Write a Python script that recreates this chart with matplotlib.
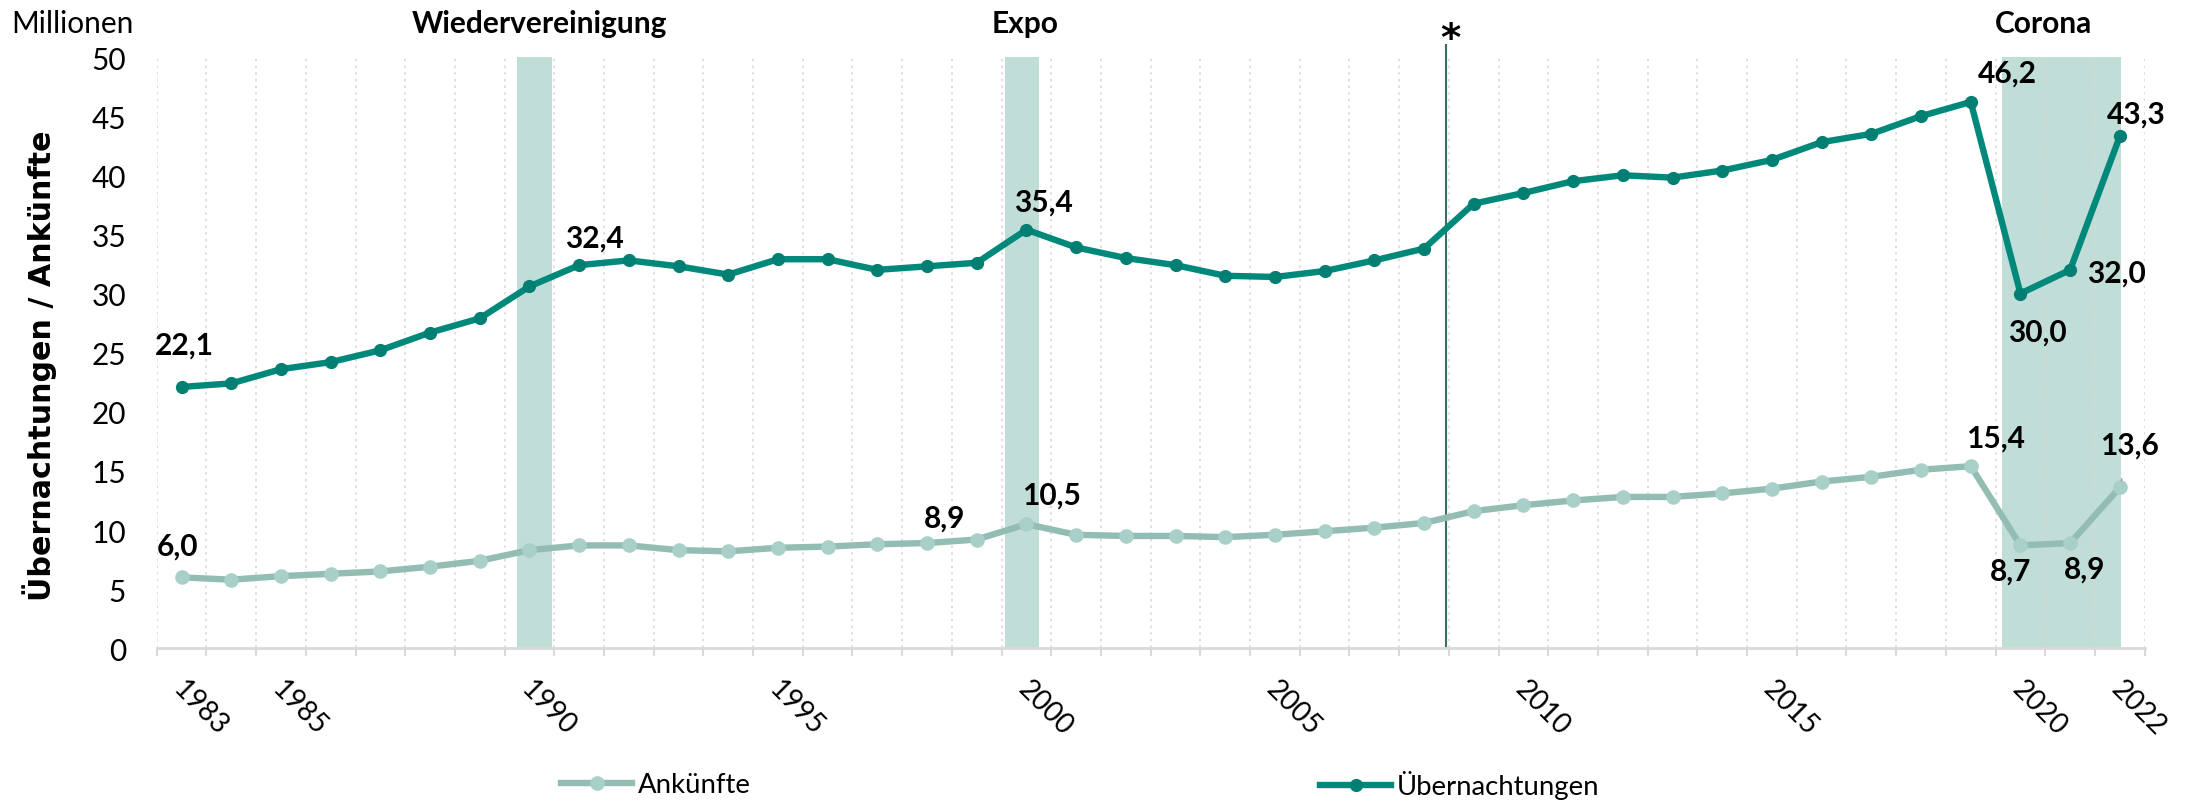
import numpy as np
import matplotlib
matplotlib.use("Agg")
import matplotlib.pyplot as plt
from matplotlib.lines import Line2D

# ---------------- data ----------------
years = list(range(1983, 2023))
uebernachtungen = [22.1, 22.4, 23.6, 24.2, 25.2, 26.7, 27.9, 30.6, 32.4, 32.8,
                   32.3, 31.6, 32.9, 32.9, 32.0, 32.3, 32.6, 35.4, 33.9, 33.0,
                   32.4, 31.5, 31.4, 31.9, 32.8, 33.8, 37.6, 38.5, 39.5, 40.0,
                   39.8, 40.4, 41.3, 42.8, 43.5, 45.0, 46.2, 30.0, 32.0, 43.3]
ankuenfte = [6.0, 5.8, 6.1, 6.3, 6.5, 6.9, 7.4, 8.3, 8.7, 8.7,
             8.3, 8.2, 8.5, 8.6, 8.8, 8.9, 9.2, 10.5, 9.6, 9.5,
             9.5, 9.4, 9.6, 9.9, 10.2, 10.6, 11.6, 12.1, 12.5, 12.8,
             12.8, 13.1, 13.5, 14.1, 14.5, 15.1, 15.4, 8.7, 8.9, 13.6]
labelled_years_ue = [1983, 1991, 2000, 2019, 2020, 2021, 2022]
labelled_years_an = [1983, 1998, 2000, 2019, 2020, 2021, 2022]
tick_years = [1983, 1985, 1990, 1995, 2000, 2005, 2010, 2015, 2020, 2022]
event_names = ["Wiedervereinigung", "Expo", "Corona"]
event_first = [1990, 2000, 2020]
event_last = [1990, 2000, 2022]
break_year = 2008   # methodological break marked with *
y_ticks = [0, 5, 10, 15, 20, 25, 30, 35, 40, 45, 50]

# ---------------- style ----------------
C_UE = "#00897b"
C_UE_M = "#007f72"
C_AN = "#93bdb3"
C_AN_M = "#a9d0c8"
C_BAND = "#c0ddd8"
C_GRID = "#d9d9d9"
FONT = "Lato"
FS = 21.5

W, H = 2190, 803
fig = plt.figure(figsize=(W / 100, H / 100), dpi=100)
fig.patch.set_facecolor("white")
L, R, B, T = 156.7, 2144.7, 649.3, 58.0
ax = fig.add_axes([L / W, 1 - B / H, (R - L) / W, (B - T) / H])

n = len(years)
x = np.arange(n)
idx = {y: i for i, y in enumerate(years)}

ax.set_xlim(-0.5, n - 0.5)
ax.set_ylim(0, 50)

# event bands (per-band offsets mimic the original's placement)
band_pad = [(-0.25, 0.45), (-0.43, 0.25), (-0.37, 0.03)]
for f, l, (pl, pr) in zip(event_first, event_last, band_pad):
    ax.axvspan(idx[f] + pl, idx[l] + pr, color=C_BAND, lw=0, zorder=1)

# break line
ax.axvline(idx[break_year] + 0.45, ymin=0, ymax=1.02, color="#3b6e68", lw=1.5,
           clip_on=False, zorder=2)

# lines
lw = 4.6
ax.plot(x, ankuenfte, color=C_AN, lw=lw, marker="o", ms=9.5,
        mfc=C_AN_M, mec=C_AN_M, zorder=3, solid_capstyle="round")
ax.plot(x, uebernachtungen, color=C_UE, lw=lw, marker="o", ms=8.5,
        mfc=C_UE_M, mec=C_UE_M, zorder=4, solid_capstyle="round")

# axes styling
for s in ["left", "right", "top"]:
    ax.spines[s].set_visible(False)
ax.spines["bottom"].set_color(C_GRID)
ax.spines["bottom"].set_linewidth(2)
ax.spines["bottom"].set_zorder(2)

ax.set_yticks(y_ticks)
ax.set_yticklabels([str(v) for v in y_ticks], fontsize=FS, fontfamily=FONT)
ax.tick_params(axis="y", length=0, pad=22)

ax.set_xticks(np.arange(-0.5, n, 1.0), minor=True)
ax.tick_params(axis="x", which="minor", length=6, width=1.5, color=C_GRID)
ax.grid(which="minor", axis="x", color=C_GRID, lw=1.2, ls=(0, (1.5, 2.5)), zorder=0)
ax.set_xticks([idx[y] + 0.1 for y in tick_years])
ax.set_xticklabels([str(y) for y in tick_years], rotation=-45, ha="left",
                   va="top", rotation_mode="anchor", fontsize=FS * 0.94,
                   fontfamily=FONT)
ax.tick_params(axis="x", which="major", length=0, pad=19)

# y-axis title placed in figure pixel coordinates
fig.text(40 / W, 1 - 366 / H, "Übernachtungen / Ankünfte", rotation=90,
         ha="center", va="center", fontsize=21.7, fontweight="bold",
         fontfamily="DejaVu Sans")

# data labels (offsets in pixels)
def fmt(v):
    return f"{v:.1f}".replace(".", ",")

ue_off = {1983: (3, -42), 1991: (15, -28), 2000: (17, -28), 2019: (37, -29),
          2020: (17, 38), 2021: (46, 3), 2022: (16, -23)}
an_off = {1983: (-4, -32), 1998: (18, -25), 2000: (25, -30), 2019: (25, -29),
          2020: (-10, 25), 2021: (14, 26), 2022: (10, -43)}
for yr in labelled_years_ue:
    dx, dy = ue_off[yr]
    ax.annotate(fmt(uebernachtungen[idx[yr]]), (idx[yr], uebernachtungen[idx[yr]]),
                xytext=(dx * 0.72, -dy * 0.72), textcoords="offset points",
                ha="center", va="center", fontsize=FS, fontweight="bold",
                fontfamily=FONT, zorder=6)
for yr in labelled_years_an:
    dx, dy = an_off[yr]
    arrow = None
    if yr == 2022:
        arrow = dict(arrowstyle="-", color="#a6a6a6", lw=1.2, shrinkA=13, shrinkB=5)
    ax.annotate(fmt(ankuenfte[idx[yr]]), (idx[yr], ankuenfte[idx[yr]]),
                xytext=(dx * 0.72, -dy * 0.72), textcoords="offset points",
                ha="center", va="center", fontsize=FS, fontweight="bold",
                fontfamily=FONT, zorder=6, arrowprops=arrow)

# top annotations
ev_x = [539.5, 1025, 2044]
for name, xp in zip(event_names, ev_x):
    fig.text(xp / W, 1 - 24 / H, name, ha="center", va="center", fontsize=FS,
             fontweight="bold", fontfamily=FONT)
fig.text(1450 / W, 1 - 40 / H, "*", ha="center", va="center", fontsize=28,
         fontweight="bold", fontfamily="DejaVu Sans")
fig.text(11 / W, 1 - 24 / H, "Millionen", ha="left", va="center", fontsize=FS,
         fontfamily=FONT)

# legend (two entries spread like the original)
h_an = Line2D([], [], color=C_AN, lw=lw, marker="o", ms=9.5, mfc=C_AN_M, mec=C_AN_M)
h_ue = Line2D([], [], color=C_UE, lw=lw, marker="o", ms=8.5, mfc=C_UE_M, mec=C_UE_M)
for h, lab, xp in [(h_an, "Ankünfte", 561), (h_ue, "Übernachtungen", 1320)]:
    fig.legend([h], [lab], loc="center left", bbox_to_anchor=(xp / W, 1 - 786 / H),
               frameon=False, borderpad=0, borderaxespad=0, handlelength=2.6,
               handletextpad=0.2, prop=dict(family=FONT, size=FS * 0.92))

fig.savefig("out.png", dpi=100, facecolor="white")
